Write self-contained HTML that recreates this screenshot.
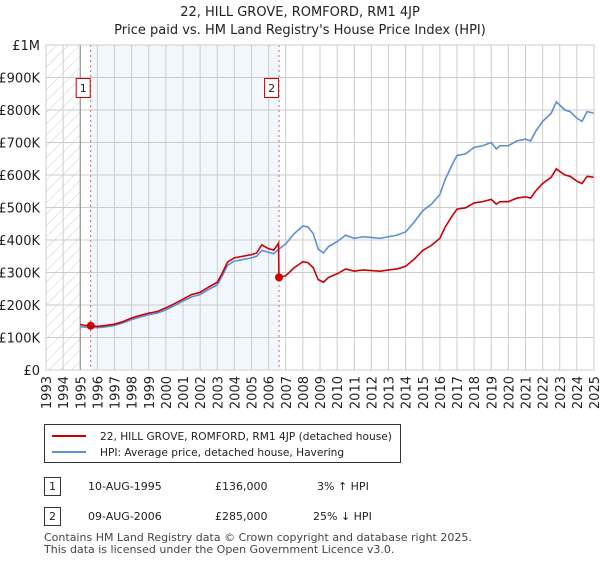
<!DOCTYPE html>
<html><head><meta charset="utf-8"><style>
body{margin:0;background:#fff;font-family:"Liberation Sans","DejaVu Sans",sans-serif;}
svg text{font-family:"DejaVu Sans","Liberation Sans",sans-serif;}
</style></head><body>
<svg width="600" height="560" xmlns="http://www.w3.org/2000/svg">
<defs><pattern id="hatch" width="8" height="8" patternUnits="userSpaceOnUse" patternTransform="rotate(45)"><line x1="0" y1="0" x2="0" y2="8" stroke="#ccc" stroke-width="1"/></pattern></defs>
<text x="300" y="16" text-anchor="middle" font-size="13" fill="#222">22, HILL GROVE, ROMFORD, RM1 4JP</text>
<text x="300" y="34" text-anchor="middle" font-size="13" fill="#222">Price paid vs. HM Land Registry's House Price Index (HPI)</text>
<g id="plot"></g>
<g id="legend">
<rect x="44.5" y="424.5" width="356" height="38" fill="#fff" stroke="#333"/>
<line x1="52" y1="436" x2="86" y2="436" stroke="#cc0000" stroke-width="2"/>
<text x="100" y="440" font-size="10.6" fill="#222">22, HILL GROVE, ROMFORD, RM1 4JP (detached house)</text>
<line x1="52" y1="452" x2="86" y2="452" stroke="#5b8fd6" stroke-width="2"/>
<text x="100" y="456" font-size="10.6" fill="#222">HPI: Average price, detached house, Havering</text>
</g>
<g font-size="11" fill="#222">
<rect x="44.5" y="477.5" width="16" height="18" fill="#fff" stroke="#333"/><text x="52.5" y="490" text-anchor="middle">1</text>
<text x="88" y="490">10-AUG-1995</text><text x="215" y="490">£136,000</text><text x="317" y="490">3% ↑ HPI</text>
<rect x="44.5" y="507.5" width="16" height="18" fill="#fff" stroke="#333"/><text x="52.5" y="520" text-anchor="middle">2</text>
<text x="88" y="520">09-AUG-2006</text><text x="215" y="520">£285,000</text><text x="313" y="520">25% ↓ HPI</text>
</g>
<text x="44" y="541" font-size="11" fill="#444">Contains HM Land Registry data © Crown copyright and database right 2025.</text>
<text x="44" y="553" font-size="11" fill="#444">This data is licensed under the Open Government Licence v3.0.</text>
</svg>
<script>
const yTicks=[0,100000,200000,300000,400000,500000,600000,700000,800000,900000,1000000];
const yLabels=["£0","£100K","£200K","£300K","£400K","£500K","£600K","£700K","£800K","£900K","£1M"];
const years=[1993,1994,1995,1996,1997,1998,1999,2000,2001,2002,2003,2004,2005,2006,2007,2008,2009,2010,2011,2012,2013,2014,2015,2016,2017,2018,2019,2020,2021,2022,2023,2024,2025];
const hpiT=[1995.0,1995.3,1995.6,1996,1996.5,1997,1997.5,1998,1998.5,1999,1999.5,2000,2000.5,2001,2001.5,2002,2002.5,2003,2003.3,2003.6,2004,2004.5,2005,2005.3,2005.6,2006,2006.3,2006.6,2007,2007.5,2008,2008.3,2008.6,2008.9,2009.2,2009.5,2010,2010.5,2011,2011.5,2012,2012.5,2013,2013.5,2014,2014.5,2015,2015.5,2016,2016.3,2016.7,2017,2017.5,2018,2018.5,2019,2019.3,2019.5,2020,2020.5,2021,2021.3,2021.6,2022,2022.5,2022.8,2023,2023.3,2023.6,2024,2024.3,2024.6,2025];
const hpiV=[133,132,132,130,133,137,145,155,163,170,175,185,198,212,225,232,248,262,290,322,335,340,345,350,368,362,358,372,388,420,443,440,420,372,360,380,395,415,405,410,408,405,410,415,425,455,490,510,540,585,630,660,665,685,690,700,680,690,690,705,710,705,735,765,790,825,815,800,795,775,765,795,790];
const redT=[1995.0,1995.3,1995.6,1996,1996.5,1997,1997.5,1998,1998.5,1999,1999.5,2000,2000.5,2001,2001.5,2002,2002.5,2003,2003.3,2003.6,2004,2004.5,2005,2005.3,2005.6,2006,2006.3,2006.58,2006.6,2007,2007.5,2008,2008.3,2008.6,2008.9,2009.2,2009.5,2010,2010.5,2011,2011.5,2012,2012.5,2013,2013.5,2014,2014.5,2015,2015.5,2016,2016.3,2016.7,2017,2017.5,2018,2018.5,2019,2019.3,2019.5,2020,2020.5,2021,2021.3,2021.6,2022,2022.5,2022.8,2023,2023.3,2023.6,2024,2024.3,2024.6,2025];
const redV=[140,137,136,134,137,141,149,160,168,175,180,191,204,218,232,239,255,270,299,332,345,350,355,360,385,373,369,390,285,290,315,333,330,315,278,270,285,296,311,304,308,306,304,308,311,319,341,368,383,405,439,473,495,499,514,518,525,510,518,518,529,533,529,551,574,593,619,611,600,596,581,574,596,593];
const sales=[{t:1995.61,v:136},{t:2006.61,v:285}];
const L=46,R=594,T=45,B=370;
const x=t=>L+(t-1993)/32*(R-L);
const y=v=>B-v/1000000*(B-T);
const NS="http://www.w3.org/2000/svg";
const g=document.getElementById('plot');
function mk(tag,attrs,parent){const e=document.createElementNS(NS,tag);for(const k in attrs)e.setAttribute(k,attrs[k]);(parent||g).appendChild(e);return e;}
mk('rect',{x:L,y:T,width:x(1995)-L,height:B-T,fill:'url(#hatch)'});
mk('rect',{x:x(sales[0].t),y:T,width:x(sales[1].t)-x(sales[0].t),height:B-T,fill:'#f2f6fd'});
yTicks.forEach((v,i)=>{
 const l=mk('line',{x1:L,x2:R,y1:y(v),y2:y(v),stroke:'#ccc'});
 
 
 const t=mk('text',{x:L-6,y:y(v)+5,'text-anchor':'end','font-size':'13',fill:'#222'});
 t.textContent=yLabels[i];
 
 
});
years.forEach(yr=>{
 const l=mk('line',{x1:x(yr),x2:x(yr),y1:T,y2:B,stroke:'#ccc'});
 
 
 const t=mk('text',{x:0,y:0,'text-anchor':'end','font-size':'13',fill:'#222',transform:`translate(${x(yr)+5},${B+6}) rotate(-90)`});
 t.textContent=yr;
 
 
});
mk('line',{x1:x(1995),x2:x(1995),y1:T,y2:B,stroke:'#888'});
sales.forEach((s,i)=>{
 const l=mk('line',{x1:x(s.t),x2:x(s.t),y1:T,y2:B,stroke:'#e06060','stroke-dasharray':'2,3'});
 
 
 const r=mk('rect',{x:x(s.t)-14.5,y:78.5,width:14,height:19,fill:'#fff',stroke:'#cc0000'});
 
 
 const t=mk('text',{x:x(s.t)-7.5,y:92,'text-anchor':'middle','font-size':'11',fill:'#222'});
 t.textContent=String(i+1);
 
 
});
const hp=mk('polyline',{points:hpiT.map((t,i)=>x(t)+','+y(hpiV[i]*1000)).join(' '),fill:'none',stroke:'#5b8fd6','stroke-width':'1.6'});


const rp=mk('polyline',{points:redT.map((t,i)=>x(t)+','+y(redV[i]*1000)).join(' '),fill:'none',stroke:'#cc0000','stroke-width':'1.6'});


sales.forEach(s=>{
 const c=mk('circle',{cx:x(s.t),cy:y(s.v*1000),r:4,fill:'#cc0000'});
 
 
});
mk('rect',{x:L,y:T,width:R-L,height:B-T,fill:'none',stroke:'#ccc'});
</script>
</body></html>
